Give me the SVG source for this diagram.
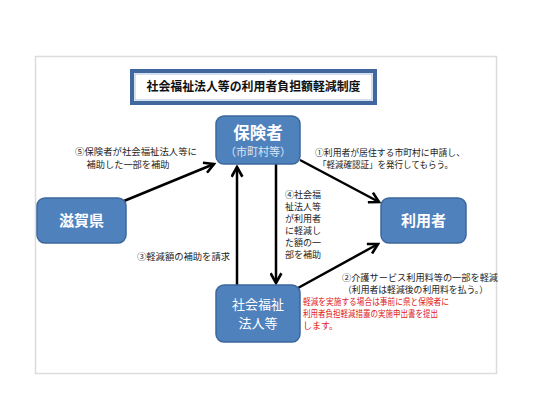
<svg xmlns="http://www.w3.org/2000/svg" width="533" height="400" viewBox="0 0 533 400">
<defs>
<marker id="arr" viewBox="0 0 12 12" refX="10" refY="6" markerWidth="13" markerHeight="13" markerUnits="userSpaceOnUse" orient="auto">
<path d="M1,1 L10,6 L1,11" fill="none" stroke="#000" stroke-width="2.4" stroke-linejoin="miter"/>
</marker>
</defs>
<style>
text{font-family:"Noto Sans CJK JP","Noto Sans",sans-serif}
.node{fill:#4f81bd;stroke:#3b679c;stroke-width:1.5}
.nt{fill:#fff;text-anchor:middle;font-weight:bold}
.lbl{fill:#222;font-size:9px}
.red{fill:#e02020;font-size:9px}
.conn line{stroke:#000;stroke-width:2.5;marker-end:url(#arr)}
</style>
<rect x="0" y="0" width="533" height="400" fill="#fff"/>
<rect x="35.5" y="56.5" width="461" height="317" fill="#fff" stroke="#dcdcdc" stroke-width="1.5"/>
<g id="title">
<rect x="132" y="71" width="243" height="32" fill="#fff" stroke="#41679f" stroke-width="4"/>
<rect x="135" y="74" width="237" height="26" fill="none" stroke="#a9c0e0" stroke-width="1"/>
<text x="253.5" y="91" text-anchor="middle" font-size="12.5" font-weight="bold" fill="#111" textLength="214" lengthAdjust="spacingAndGlyphs">社会福祉法人等の利用者負担額軽減制度</text>
</g>
<g class="conn" id="connectors">
<line x1="124" y1="201" x2="214" y2="164"/>
<line x1="300" y1="160" x2="379" y2="202"/>
<line x1="298" y1="288" x2="378" y2="244"/>
<line x1="237" y1="285" x2="237" y2="167"/>
<line x1="276" y1="161" x2="276" y2="283"/>
</g>
<g id="hokensha">
<rect class="node" x="216" y="116" width="84" height="48" rx="8"/>
<text class="nt" x="258" y="139" font-size="16.5">保険者</text>
<text x="258" y="156" text-anchor="middle" font-size="11" fill="#dce6f2">（市町村等）</text>
</g>
<g id="shiga">
<rect class="node" x="37" y="198" width="89" height="45" rx="8"/>
<text class="nt" x="81.5" y="226" font-size="15">滋賀県</text>
</g>
<g id="riyousha">
<rect class="node" x="381" y="198" width="85" height="45" rx="8"/>
<text class="nt" x="423.5" y="226" font-size="15">利用者</text>
</g>
<g id="houjin">
<rect class="node" x="216" y="285" width="84" height="57" rx="8"/>
<text x="258" y="309" text-anchor="middle" font-size="13" fill="#fff">社会福祉</text>
<text x="258" y="328" text-anchor="middle" font-size="13" fill="#fff">法人等</text>
</g>
<g id="labels">
<text class="lbl" x="136" y="155" text-anchor="middle" textLength="122" lengthAdjust="spacingAndGlyphs">⑤保険者が社会福祉法人等に</text>
<text class="lbl" x="128" y="168" text-anchor="middle" textLength="83" lengthAdjust="spacingAndGlyphs">補助した一部を補助</text>
<text class="lbl" x="315" y="156" textLength="150" lengthAdjust="spacingAndGlyphs">①利用者が居住する市町村に申請し、</text>
<text class="lbl" x="318" y="168" textLength="135" lengthAdjust="spacingAndGlyphs">「軽減確認証」を発行してもらう。</text>
<text class="lbl" x="285" y="198">④社会福</text>
<text class="lbl" x="285" y="210">祉法人等</text>
<text class="lbl" x="285" y="222">が利用者</text>
<text class="lbl" x="285" y="234">に軽減し</text>
<text class="lbl" x="285" y="246">た額の一</text>
<text class="lbl" x="285" y="258">部を補助</text>
<text class="lbl" x="137" y="260" textLength="93" lengthAdjust="spacingAndGlyphs">③軽減額の補助を請求</text>
<text class="lbl" x="342" y="281" textLength="156" lengthAdjust="spacingAndGlyphs">②介護サービス利用料等の一部を軽減</text>
<text class="lbl" x="343" y="293" textLength="145" lengthAdjust="spacingAndGlyphs">（利用者は軽減後の利用料を払う。）</text>
<text class="red" x="303" y="305" textLength="146" lengthAdjust="spacingAndGlyphs">軽減を実施する場合は事前に県と保険者に</text>
<text class="red" x="303" y="317" textLength="135" lengthAdjust="spacingAndGlyphs">利用者負担軽減措置の実施申出書を提出</text>
<text class="red" x="303" y="329">します。</text>
</g>
</svg>
